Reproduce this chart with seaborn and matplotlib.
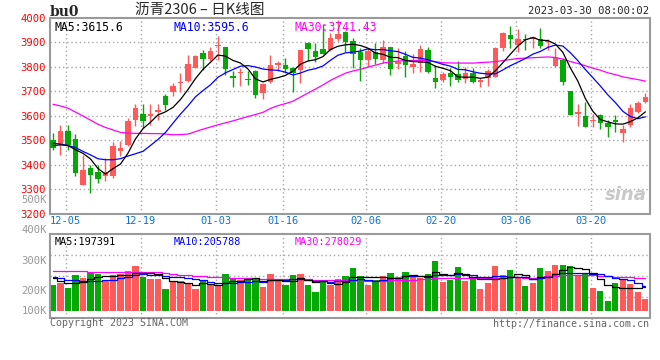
import numpy as np
import pandas as pd
import matplotlib
matplotlib.use("Agg")
import matplotlib.pyplot as plt
import matplotlib.transforms as mtransforms
import seaborn as sns

# =========================
# DATA (2022-12-01 .. 2023-03-30)
# =========================
open_ = [3500, 3481, 3538, 3506, 3315, 3387, 3371, 3352, 3352, 3457,
         3481, 3583, 3608, 3597, 3617, 3681, 3699, 3733, 3744, 3797,
         3858, 3831, 3884, 3880, 3763, 3774, 3752, 3783, 3692, 3737,
         3808, 3808, 3794, 3788, 3897, 3866, 3873, 3869, 3914, 3944,
         3905, 3862, 3828, 3862, 3828, 3880, 3812, 3846, 3801, 3814,
         3869, 3753, 3746, 3774, 3769, 3750, 3774, 3740, 3753, 3760,
         3876, 3930, 3889, 3916, 3914, 3916, 3900, 3803, 3828, 3701,
         3609, 3599, 3578, 3604, 3572, 3583, 3531, 3563, 3617, 3655]
high = [3531, 3563, 3561, 3526, 3440, 3400, 3400, 3427, 3491, 3497,
        3590, 3647, 3647, 3647, 3647, 3689, 3733, 3774, 3848, 3848,
        3869, 3880, 3927, 3882, 3783, 3794, 3783, 3787, 3733, 3848,
        3825, 3835, 3801, 3869, 3900, 3899, 3975, 3937, 3990, 3948,
        3919, 3876, 3876, 3896, 3910, 3880, 3876, 3865, 3851, 3889,
        3880, 3808, 3780, 3794, 3824, 3801, 3794, 3753, 3791, 3882,
        3943, 3967, 3954, 3934, 3927, 3961, 3916, 3876, 3835, 3701,
        3647, 3655, 3608, 3606, 3583, 3604, 3563, 3647, 3661, 3692]
low = [3461, 3440, 3461, 3352, 3315, 3284, 3325, 3331, 3346, 3436,
       3475, 3559, 3549, 3563, 3583, 3624, 3680, 3699, 3740, 3794,
       3787, 3825, 3828, 3767, 3716, 3720, 3725, 3674, 3667, 3734,
       3785, 3774, 3699, 3733, 3824, 3821, 3851, 3865, 3905, 3862,
       3794, 3742, 3803, 3812, 3814, 3767, 3790, 3760, 3774, 3780,
       3775, 3712, 3739, 3723, 3739, 3735, 3733, 3716, 3723, 3757,
       3865, 3878, 3862, 3871, 3876, 3878, 3869, 3801, 3726, 3604,
       3560, 3552, 3556, 3546, 3511, 3533, 3491, 3552, 3610, 3651]
close = [3470, 3538, 3481, 3366, 3376, 3356, 3340, 3369, 3477, 3470,
         3579, 3631, 3579, 3608, 3620, 3642, 3722, 3740, 3812, 3844,
         3831, 3866, 3889, 3790, 3756, 3778, 3745, 3685, 3728, 3808,
         3814, 3790, 3774, 3869, 3873, 3840, 3854, 3920, 3934, 3903,
         3852, 3828, 3866, 3832, 3880, 3790, 3821, 3808, 3810, 3873,
         3780, 3740, 3769, 3760, 3746, 3774, 3740, 3746, 3783, 3878,
         3939, 3914, 3914, 3910, 3922, 3886, 3906, 3842, 3740, 3604,
         3614, 3552, 3580, 3572, 3556, 3574, 3546, 3631, 3651, 3678]
# volume in thousands
volume = [221, 226, 210, 254, 243, 259, 256, 237, 252, 256,
          266, 283, 246, 239, 239, 207, 232, 234, 226, 207,
          234, 219, 219, 256, 239, 237, 239, 239, 213, 256,
          232, 218, 253, 257, 218, 197, 237, 221, 239, 249,
          276, 248, 219, 237, 248, 259, 245, 262, 245, 243,
          256, 300, 230, 237, 279, 234, 243, 207, 226, 283,
          252, 268, 243, 215, 226, 276, 267, 287, 287, 281,
          254, 259, 210, 201, 168, 226, 237, 223, 197, 175]

# moving-average values before the window fills
ma5_head = [3478, 3481, 3478, 3461]
ma10_head = [3488, 3484, 3478, 3470, 3454, 3440, 3424, 3420, 3420]
ma30_head = [3647, 3640, 3631, 3615, 3599, 3582, 3565, 3552, 3542, 3532,
             3529, 3528, 3528, 3527, 3527, 3525, 3522, 3523, 3525, 3535,
             3545, 3554, 3563, 3571, 3579, 3588, 3597, 3605, 3614]
vma5_head = [243, 232, 226, 226]
vma10_head = [246, 243, 235, 235, 234, 234, 234, 237, 237]
vma30_head = [265, 265, 265, 265, 265, 261, 261, 261, 261, 261,
              261, 261, 261, 261, 261, 258, 255, 253, 251, 249,
              248, 247, 246, 245, 244, 243, 242, 241, 240]

# legend texts as printed on the chart
price_legend = ["MA5:3615.6", "MA10:3595.6", "MA30:3741.43"]
vol_legend = ["MA5:197391", "MA10:205788", "MA30:278029"]

date_idx = [2, 12, 22, 31, 42, 52, 62, 72]
date_labels = ["12-05", "12-19", "01-03", "01-16", "02-06", "02-20", "03-06", "03-20"]
price_ticks = [3200, 3300, 3400, 3500, 3600, 3700, 3800, 3900, 4000]
vol_ticks = [200, 300, 400, 500]
VOL_BASE = 134

# =========================
# CONFIG
# =========================
RED = "#ff5959"
GREEN = "#06a806"
GRID = "#a8a8a8"
FRAME = "#9a9a9a"
MA_COLORS = ["black", "#0000ff", "#ff00ff"]
W, H = 660, 360

sns.set_style("white")
plt.rcParams['font.family'] = ['DejaVu Sans Mono', 'Noto Sans CJK SC']

df = pd.DataFrame({"open": open_, "high": high, "low": low,
                   "close": close, "vol": volume})
df["k"] = np.arange(len(df))


def with_head(series, n, head):
    out = series.rolling(n).mean()
    out.iloc[:len(head)] = head
    return out


df["ma5"] = with_head(df["close"], 5, ma5_head)
df["ma10"] = with_head(df["close"], 10, ma10_head)
df["ma30"] = with_head(df["close"], 30, ma30_head)
df["vma5"] = with_head(df["vol"], 5, vma5_head)
df["vma10"] = with_head(df["vol"], 10, vma10_head)
df["vma30"] = with_head(df["vol"], 30, vma30_head)

up = df["close"] >= df["open"]
colors = np.where(up, RED, GREEN)

fig = plt.figure(figsize=(W / 100, H / 100), dpi=100)
fig.patch.set_facecolor("white")
ax = fig.add_axes([50 / W, 1 - 213.5 / H, 599.5 / W, 195.5 / H])
axv = fig.add_axes([50 / W, 1 - 318 / H, 599.5 / W, 84 / H])

xlim = (-0.4, 79.55)

# =========================
# PRICE PANEL
# =========================
for y in price_ticks[1:-1]:
    ax.axhline(y, color=GRID, lw=1, ls=(0, (1, 2)), zorder=0)
for i in date_idx:
    ax.axvline(i - 0.3, color=GRID, lw=1, ls=(0, (1, 2)), zorder=0)

ax.vlines(df["k"], df["low"], df["high"], colors=colors, lw=1, zorder=2)
body_bottom = np.minimum(df["open"], df["close"])
body_h = np.maximum(np.abs(df["close"] - df["open"]), 6)
ax.bar(df["k"], body_h, bottom=body_bottom, width=0.74, color=colors,
       lw=0, zorder=3)

sns.lineplot(data=df, x="k", y="ma30", color=MA_COLORS[2], lw=0.9, ax=ax, zorder=4)
sns.lineplot(data=df, x="k", y="ma10", color=MA_COLORS[1], lw=0.9, ax=ax, zorder=4)
sns.lineplot(data=df, x="k", y="ma5", color=MA_COLORS[0], lw=0.9, ax=ax, zorder=4)

ax.set_xlim(*xlim)
ax.set_ylim(3200, 4000)
ax.set_yticks(price_ticks)
ax.set_yticklabels([str(t) for t in price_ticks])
ax.tick_params(axis="y", length=0, pad=3, labelcolor="#ff0000", labelsize=7.6)
ax.set_xticks([i - 0.3 for i in date_idx])
ax.set_xticklabels(date_labels)
ax.tick_params(axis="x", length=0, pad=2, labelcolor="#0a74d0", labelsize=7.5)
ax.set_xlabel("")
ax.set_ylabel("")
for s in ax.spines.values():
    s.set_color(FRAME)
    s.set_linewidth(1.5)

for txt, xpos, col in zip(price_legend, [5, 124, 245], MA_COLORS):
    ax.text(xpos / 600, 0.985, txt, transform=ax.transAxes,
            color=col, fontsize=8.3, va="top", ha="left")

# sina watermark
ax.text(0.995, 0.05, "sina", transform=ax.transAxes, ha="right", va="bottom",
        fontsize=13, fontweight="bold", style="italic", color="#c8c8c8",
        family="DejaVu Sans")

# =========================
# VOLUME PANEL
# =========================
vlo, vhi = 111, 387.5
for f in (0.25, 0.5, 0.75):
    axv.axhline(vlo + (vhi - vlo) * f, color=GRID, lw=1, ls=(0, (1, 2)), zorder=0)
for i in date_idx:
    axv.axvline(i - 0.3, color=GRID, lw=1, ls=(0, (1, 2)), zorder=0)

axv.bar(df["k"], df["vol"] - VOL_BASE, bottom=VOL_BASE, width=0.82,
        color=colors, lw=0, zorder=2)
sns.lineplot(data=df, x="k", y="vma30", color=MA_COLORS[2], lw=0.9, ax=axv,
             drawstyle="steps-mid", zorder=4)
sns.lineplot(data=df, x="k", y="vma10", color=MA_COLORS[1], lw=0.9, ax=axv,
             drawstyle="steps-mid", zorder=4)
sns.lineplot(data=df, x="k", y="vma5", color=MA_COLORS[0], lw=0.9, ax=axv,
             drawstyle="steps-mid", zorder=4)

axv.set_xlim(*xlim)
axv.set_ylim(vlo, vhi)
axv.set_xticks([])
axv.set_yticks([])
axv.set_xlabel("")
axv.set_ylabel("")
for s in axv.spines.values():
    s.set_color(FRAME)
    s.set_linewidth(1.5)

trans = mtransforms.blended_transform_factory(axv.transAxes, axv.transData)
for t in vol_ticks:
    axv.text(-0.005, t, "%dK" % t, transform=trans, ha="right", va="center",
             color="#999999", fontsize=7.6, clip_on=False)
axv.text(-0.005, VOL_BASE, "100K", transform=trans, ha="right", va="center",
         color="#999999", fontsize=7.6, clip_on=False)

for txt, xpos, col in zip(vol_legend, [5, 124, 245], MA_COLORS):
    axv.text(xpos / 600, 0.97, txt, transform=axv.transAxes, color=col,
             fontsize=7.3, va="top", ha="left")

# =========================
# HEADER / FOOTER
# =========================
fig.text(50 / W, 1 - 12 / H, "bu0", fontsize=10, fontweight="bold",
         ha="left", va="center", family="DejaVu Serif")
fig.text(200 / W, 1 - 10 / H, "沥青2306 – 日K线图", fontsize=10.5,
         ha="center", va="center", family=["Noto Sans CJK SC", "DejaVu Sans"])
fig.text(649 / W, 1 - 11 / H, "2023-03-30 08:00:02", fontsize=7.6,
         ha="right", va="center")
fig.text(50 / W, 1 - 323 / H, "Copyright 2023 SINA.COM", fontsize=7.2,
         ha="left", va="center", color="#666666")
fig.text(649 / W, 1 - 324 / H, "http://finance.sina.com.cn", fontsize=7.2,
         ha="right", va="center", color="#666666")

fig.savefig("out.png", dpi=100, facecolor="white")
